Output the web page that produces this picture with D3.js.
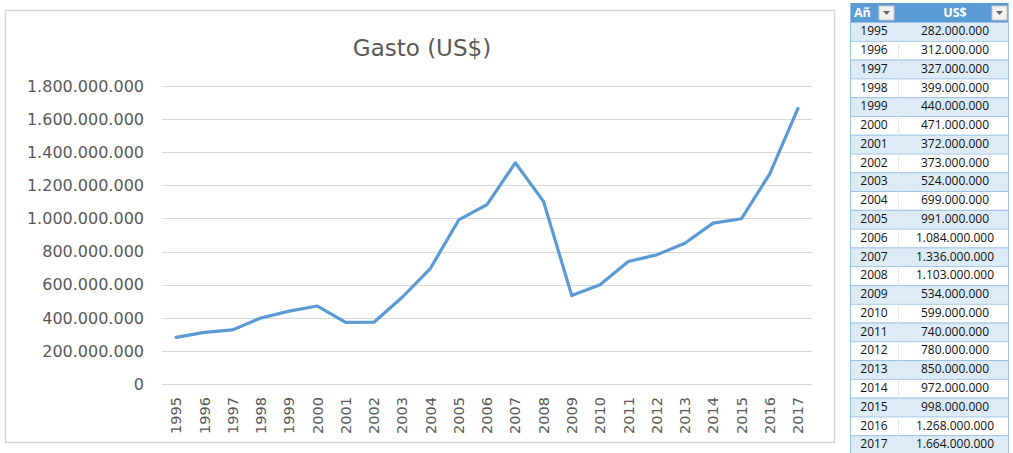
<!DOCTYPE html>
<html>
<head>
<meta charset="utf-8">
<script src="https://cdn.jsdelivr.net/npm/d3@7"></script>
<style>
  body { margin: 0; background: #fff; }
  svg { display: block; }
</style>
</head>
<body>
<div id="container"></div>
<script>
// datos de la tabla
const years = [1995, 1996, 1997, 1998, 1999, 2000, 2001, 2002, 2003, 2004, 2005, 2006,
               2007, 2008, 2009, 2010, 2011, 2012, 2013, 2014, 2015, 2016, 2017];
const gasto = [282000000, 312000000, 327000000, 399000000, 440000000, 471000000, 372000000,
               373000000, 524000000, 699000000, 991000000, 1084000000, 1336000000, 1103000000,
               534000000, 599000000, 740000000, 780000000, 850000000, 972000000, 998000000,
               1268000000, 1664000000];
const yTicks = [0, 200000000, 400000000, 600000000, 800000000, 1000000000, 1200000000,
                1400000000, 1600000000, 1800000000];
const title = 'Gasto (US$)';
const headers = ['Añ', 'US$'];

const width = 1013;
const height = 453;

const locale = d3.formatLocale({decimal: ',', thousands: '.', grouping: [3], currency: ['$', '']});
const fmt = locale.format(',');

const data = years.map((y, i) => ({year: y, value: gasto[i]}));

const svg = d3.select('#container').append('svg')
    .attr('width', width)
    .attr('height', height);

// ---- grafico ----
const chart = svg.append('g');

chart.append('rect')
    .attr('x', 5.5).attr('y', 10.5)
    .attr('width', 829).attr('height', 432)
    .attr('fill', '#fff')
    .attr('stroke', '#d4d4d4')
    .attr('stroke-width', 1.5);

const xScale = d3.scaleBand()
    .domain(years)
    .range([162, 812]);

const yScale = d3.scaleLinear()
    .domain([0, 1800000000])
    .range([384, 86]);

chart.append('g')
    .selectAll('line')
    .data(yTicks)
    .enter()
    .append('line')
    .attr('x1', 162)
    .attr('x2', 812)
    .attr('y1', d => Math.round(yScale(d)) + 0.5)
    .attr('y2', d => Math.round(yScale(d)) + 0.5)
    .attr('stroke', '#d9d9d9')
    .attr('stroke-width', 1);

chart.append('g')
    .selectAll('text')
    .data(yTicks)
    .enter()
    .append('text')
    .attr('x', 144)
    .attr('y', d => yScale(d))
    .attr('dy', '0.36em')
    .attr('text-anchor', 'end')
    .style('font-family', 'DejaVu Sans')
    .style('font-size', '16px')
    .style('fill', '#595959')
    .text(d => fmt(d));

chart.append('g')
    .selectAll('text')
    .data(years)
    .enter()
    .append('text')
    .attr('transform', d => `translate(${xScale(d) + xScale.bandwidth() / 2}, 397) rotate(-90)`)
    .attr('dy', '0.36em')
    .attr('text-anchor', 'end')
    .style('font-family', 'DejaVu Sans')
    .style('font-size', '14.5px')
    .style('fill', '#595959')
    .text(d => d);

const valueline = d3.line()
    .x(d => xScale(d.year) + xScale.bandwidth() / 2)
    .y(d => yScale(d.value));

chart.append('path')
    .datum(data)
    .attr('d', valueline)
    .attr('fill', 'none')
    .attr('stroke', '#5b9bd5')
    .attr('stroke-width', 3.2)
    .attr('stroke-linejoin', 'round')
    .attr('stroke-linecap', 'round');

chart.append('text')
    .attr('x', 422)
    .attr('y', 48)
    .attr('dy', '0.36em')
    .attr('text-anchor', 'middle')
    .style('font-family', 'DejaVu Sans')
    .style('font-size', '23px')
    .style('fill', '#595959')
    .text(title);

// ---- tabla ----
const table = svg.append('g');
const tx0 = 850, tx1 = 898, tx2 = 1009;
const headTop = 3, headBottom = 22;

const rowScale = d3.scaleBand()
    .domain(years)
    .range([headBottom, headBottom + years.length * 18.78]);

table.append('rect')
    .attr('x', tx0).attr('y', headTop)
    .attr('width', tx2 - tx0).attr('height', headBottom - headTop)
    .attr('fill', '#5b9bd5');

const rows = table.selectAll('g.row')
    .data(data)
    .enter()
    .append('g')
    .attr('class', 'row')
    .attr('transform', d => `translate(0, ${rowScale(d.year)})`);

rows.append('rect')
    .attr('x', tx0).attr('y', 0)
    .attr('width', tx2 - tx0).attr('height', rowScale.bandwidth())
    .attr('fill', (d, i) => i % 2 === 0 ? '#ddebf7' : '#ffffff');

rows.append('line')
    .attr('x1', tx0).attr('x2', tx2)
    .attr('y1', 0.5).attr('y2', 0.5)
    .attr('stroke', '#9bc2e6')
    .attr('stroke-width', 1);

rows.append('line')
    .attr('x1', tx1 + 0.5).attr('x2', tx1 + 0.5)
    .attr('y1', 0).attr('y2', rowScale.bandwidth())
    .attr('stroke', '#ddebf7')
    .attr('stroke-width', 1);

rows.append('text')
    .attr('x', (tx0 + tx1) / 2)
    .attr('y', rowScale.bandwidth() / 2 - 0.5)
    .attr('dy', '0.36em')
    .attr('text-anchor', 'middle')
    .style('font-family', 'Open Sans')
    .style('font-size', '12px')
    .style('fill', '#111')
    .text(d => d.year);

rows.append('text')
    .attr('x', 955)
    .attr('y', rowScale.bandwidth() / 2 - 0.5)
    .attr('dy', '0.36em')
    .attr('text-anchor', 'middle')
    .style('font-family', 'Open Sans')
    .style('font-size', '12px')
    .style('fill', '#111')
    .text(d => fmt(d.value));

table.append('line')
    .attr('x1', tx0 + 0.5).attr('x2', tx0 + 0.5)
    .attr('y1', headTop).attr('y2', height)
    .attr('stroke', '#9bc2e6');
table.append('line')
    .attr('x1', tx2 - 0.5).attr('x2', tx2 - 0.5)
    .attr('y1', headTop).attr('y2', height)
    .attr('stroke', '#9bc2e6');

// encabezados
table.append('text')
    .attr('x', 854).attr('y', (headTop + headBottom) / 2)
    .attr('dy', '0.36em')
    .style('font-family', 'Open Sans')
    .style('font-size', '12.5px')
    .style('font-weight', 'bold')
    .style('fill', '#fff')
    .text(headers[0]);
table.append('text')
    .attr('x', 955).attr('y', (headTop + headBottom) / 2)
    .attr('dy', '0.36em')
    .attr('text-anchor', 'middle')
    .style('font-family', 'Open Sans')
    .style('font-size', '12.5px')
    .style('font-weight', 'bold')
    .style('fill', '#fff')
    .text(headers[1]);

// botones de filtro
[879, 992].forEach(bx => {
    table.append('rect')
        .attr('x', bx).attr('y', headTop + 3)
        .attr('width', 15).attr('height', 14)
        .attr('fill', '#f2f2f2')
        .attr('stroke', '#c8c8c8');
    table.append('path')
        .attr('d', `M${bx + 4},${headTop + 8} L${bx + 11},${headTop + 8} L${bx + 7.5},${headTop + 12} Z`)
        .attr('fill', '#666');
});
</script>
</body>
</html>
